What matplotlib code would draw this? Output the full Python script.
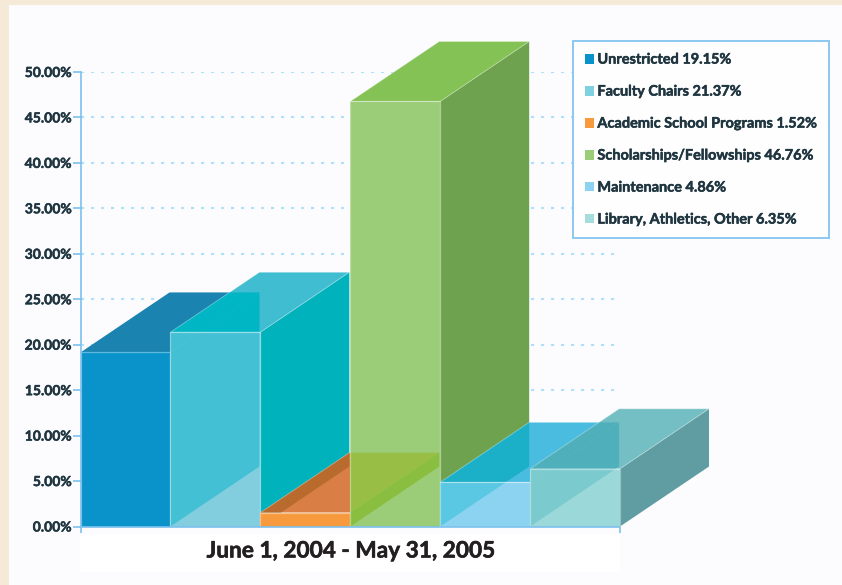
import matplotlib
matplotlib.use("Agg")
import matplotlib.pyplot as plt
import matplotlib.patheffects as pe
from matplotlib.patches import Polygon, Patch, Rectangle

plt.rcParams['font.family'] = ['Lato', 'DejaVu Sans']

names = ["Unrestricted", "Faculty Chairs", "Academic School Programs",
         "Scholarships/Fellowships", "Maintenance", "Library, Athletics, Other"]
values = [19.15, 21.37, 1.52, 46.76, 4.86, 6.35]
yticks = [0, 5, 10, 15, 20, 25, 30, 35, 40, 45, 50]
period = "June 1, 2004 - May 31, 2005"

front_colors = ["#0A93CB", "#82CEDF", "#F79A3E", "#9BCC78", "#8BD3F0", "#9BD8DA"]
top_colors = ["#1A83AF", "#40BDD0", "#D97F45", "#85C255", "#4ABCE0", "#74BFC4"]
side_colors = ["#0A93CB", "#00B2BC", "#D97F45", "#6FA24E", "#4ABCE0", "#5F9DA3"]
legend_colors = ["#0A93CB", "#7FD0E0", "#F79A3E", "#9BCC78", "#8BD3F0", "#A5DCDC"]

W, H = 842, 585
DX, DY = 0.99, 6.6   # depth of the boxes in data units

# the original type is heavier than Lato Bold
heavy = [pe.withStroke(linewidth=0.35, foreground="#1F3540")]


def front(i):
    h = values[i]
    return [(i, 0), (i + 1, 0), (i + 1, h), (i, h)]


def top(i):
    h = values[i]
    return [(i, h), (i + 1, h), (i + 1 + DX, h + DY), (i + DX, h + DY)]


def side(i):
    h = values[i]
    return [(i + 1, 0), (i + 1 + DX, DY), (i + 1 + DX, h + DY), (i + 1, h)]


def see_through(ax, shape, over, color, z):
    # part of an earlier box that shows through a later face
    art = Polygon(shape, facecolor=color, edgecolor="none", zorder=z)
    ax.add_patch(art)
    art.set_clip_box(None)
    art.set_clip_path(Polygon(over, transform=ax.transData))


fig = plt.figure(figsize=(W / 100, H / 100), dpi=100, facecolor="#F5E9D8")
fig.add_artist(Rectangle((9 / W, 0), 1 - 9 / W, 1 - 5 / H, transform=fig.transFigure,
                         facecolor="#FCFCFE", edgecolor="none", zorder=-5))
fig.add_artist(Rectangle((80 / W, 13 / H), 540 / W, 38 / H, transform=fig.transFigure,
                         facecolor="white", edgecolor="none", zorder=-4))

ax = fig.add_axes([80.5 / W, (H - 526.5) / H, 539.5 / W, 454.5 / H])
ax.patch.set_visible(False)
ax.set_xlim(0, 6)
ax.set_ylim(0, 50)

for t in yticks:
    ax.plot([0, 6], [t, t], color="#AEE0F8", lw=1.5, linestyle=(0, (1.5, 3.3)), zorder=1)

for i in range(len(values)):
    z = 3 + i
    ax.add_patch(Polygon(side(i), facecolor=side_colors[i], edgecolor="none", zorder=z, clip_on=False))
    ax.add_patch(Polygon(top(i), facecolor=top_colors[i], edgecolor="none", zorder=z, clip_on=False))

    # overlaps seen through the translucent faces
    if i == 1:
        see_through(ax, top(0), top(1), "#00B5C4", z)
        see_through(ax, side(0), top(1), "#00B5C4", z)
    if i == 2:
        see_through(ax, side(1), top(2), "#B96B2E", z)
    if i == 4:
        see_through(ax, side(3), top(4), "#1CB0C8", z)
    if i == 5:
        see_through(ax, top(4), top(5), "#4FB0BC", z)
        see_through(ax, side(4), top(5), "#4FB0BC", z)

    ax.add_patch(Polygon(front(i), facecolor=front_colors[i], edgecolor="none", zorder=z + 0.1, clip_on=False))

    if i == 1:
        see_through(ax, top(0), front(1), "#43C0D3", z + 0.2)
        see_through(ax, side(0), front(1), "#43C0D3", z + 0.2)
    if i == 3:
        see_through(ax, top(2), front(3), "#98BE45", z + 0.2)
        see_through(ax, side(2), front(3), "#8ABE40", z + 0.2)
    if i == 4:
        see_through(ax, side(3), front(4), "#5AC8E2", z + 0.2)
    if i == 5:
        see_through(ax, top(4), front(5), "#7BCBCE", z + 0.2)
        see_through(ax, side(4), front(5), "#7BCBCE", z + 0.2)

    ax.add_patch(Polygon(front(i), facecolor="none", edgecolor=(1, 1, 1, 0.35), lw=0.9,
                         zorder=z + 0.3, clip_on=False))
    if i > 0:
        ax.add_patch(Polygon(top(i), facecolor="none", edgecolor=(1, 1, 1, 0.3), lw=0.7,
                             zorder=z + 0.3, clip_on=False))

for s in ["top", "right"]:
    ax.spines[s].set_visible(False)
for s in ["left", "bottom"]:
    ax.spines[s].set_color("#7CC0EE")
    ax.spines[s].set_linewidth(1.2)
    ax.spines[s].set_zorder(20)

ax.set_yticks(yticks)
ax.set_yticklabels([f"{t:.2f}%" for t in yticks], fontsize=10, fontweight="bold", color="#1F3540",
                   path_effects=heavy)
ax.set_xticks([0, 6])
ax.set_xticklabels([])
ax.tick_params(axis="y", length=5.5, width=1.2, color="#7CC0EE", pad=0.8)
ax.tick_params(axis="x", length=4.5, width=1.2, color="#7CC0EE")

fig.text(351 / W, (H - 551) / H, period, ha="center", va="center",
         fontsize=16.3, fontweight="bold", color="#231F20",
         path_effects=[pe.withStroke(linewidth=0.4, foreground="#231F20")])

handles = [Patch(facecolor=c, edgecolor="none") for c in legend_colors]
labels = [f"{n} {v:.2f}%" for n, v in zip(names, values)]
leg = fig.legend(handles, labels, loc="upper left", bbox_to_anchor=(573 / W, (H - 41) / H),
                 borderaxespad=0, fancybox=False, framealpha=1, facecolor="#FEFEFE",
                 edgecolor="#8CC8F0", prop={"size": 10.45, "weight": "bold"},
                 handlelength=0.68, handleheight=0.68, handletextpad=0.2,
                 labelspacing=1.24, borderpad=0.8)
leg.get_frame().set_linewidth(1.4)
for t in leg.get_texts():
    t.set_color("#1F3540")
    t.set_path_effects(heavy)

fig.savefig("out.png", dpi=100, facecolor=fig.get_facecolor())
